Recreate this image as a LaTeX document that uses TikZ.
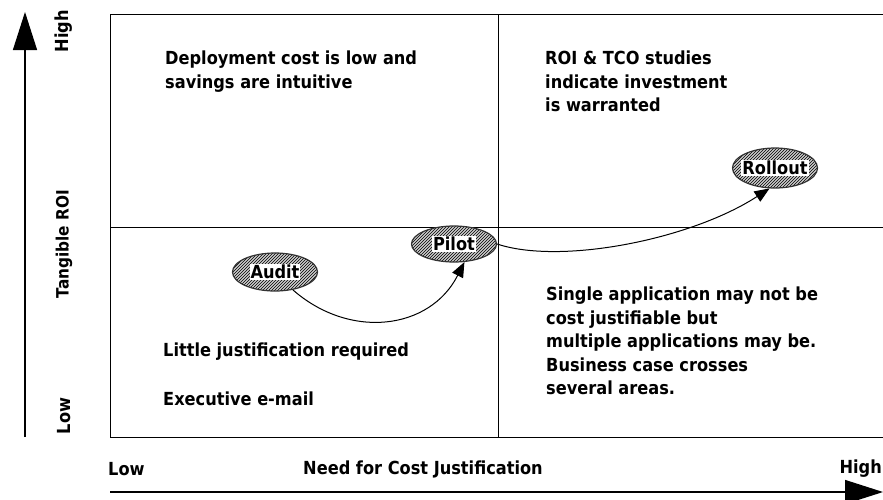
\documentclass[tikz,border=0pt]{standalone}
\usepackage{fontspec}
\setmainfont{DejaVu Sans Condensed}
\usetikzlibrary{arrows.meta,patterns,shapes.geometric}
\begin{document}
\begin{tikzpicture}[x=1pt,y=-1pt,font=\bfseries\fontsize{18}{23.5}\selectfont]
    \tikzset {
        quad text/.style = {anchor=north west, align=left, inner sep=0pt},
        axis text/.style = {inner sep=0pt},
        stage/.style = {ellipse, draw=black!80, line width=1.2pt, preaction={fill=black!20},
            pattern=north east lines, pattern color=black,
            minimum width=85pt, minimum height=#1, inner sep=0pt},
        stage label/.style = {fill=white, inner sep=1pt},
        axis arrow/.style = {line width=1.3pt, -{Triangle[length=38pt,width=24pt]}},
        move/.style = {line width=1pt, -{Triangle[length=15pt,width=12pt]}}
    }
    \useasboundingbox (0,0) rectangle (883,499);
    \draw[line width=1pt] (883,14) -- (110,14) -- (110,437) -- (883,437);
    \draw[line width=1pt] (498,14) -- (498,437);
    \draw[line width=1pt] (110,227) -- (883,227);
    \coordinate (ylow) at (25,437);
    \coordinate (yhigh) at (25,12);
    \coordinate (xlow) at (110,492);
    \coordinate (xhigh) at (883,492);
    \draw[axis arrow] (ylow) -- (yhigh);
    \draw[axis arrow] (xlow) -- (xhigh);
    \node[axis text, rotate=90] (yhigh label) at (64,31) {High};
    \node[axis text, rotate=90, font=\bfseries\fontsize{17}{18}\selectfont] (yname) at (64,244) {Tangible ROI};
    \node[axis text, rotate=90] (ylow label) at (64,416) {Low};
    \node[axis text, anchor=west] (xlow label) at (108,469) {Low};
    \node[axis text] (xname) at (423,469) {Need for Cost Justification};
    \node[axis text, anchor=east] (xhigh label) at (882,469) {High};
    \node[quad text] (topleft) at (165,51) {Deployment cost is low and\\savings are intuitive};
    \node[quad text] (topright) at (545,51) {ROI \& TCO studies\\indicate investment\\is warranted};
    \node[quad text] (bottomright) at (546,287) {Single application may not be\\cost justifiable but\\multiple applications may be.\\Business case crosses\\several areas.};
    \node[quad text] (little) at (163,343) {Little justification required};
    \node[quad text] (exec) at (163,392) {Executive e-mail};
    \node[stage=38pt] (audit) at (275,272) {};
    \node[stage label] at (audit) {Audit};
    \node[stage=36pt] (pilot) at (454,244) {};
    \node[stage label] at (pilot) {Pilot};
    \node[stage=40pt] (rollout) at (775,168) {};
    \node[stage label] at (rollout) {Rollout};
    \draw[move] (audit.-45) .. controls (350,340) and (430,330) .. (pilot.-60);
    \draw[move] (pilot.east) .. controls (560,265) and (690,240) .. (rollout.-105);
\end{tikzpicture}
\end{document}
